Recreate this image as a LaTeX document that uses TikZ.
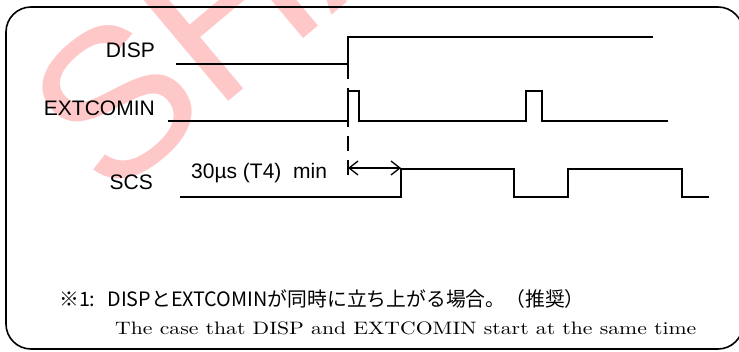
\documentclass[tikz,border=0pt]{standalone}
\usepackage{fontspec}
\newfontfamily\arialfont{Liberation Sans}
\newfontfamily\jpfont{Noto Sans CJK JP}
\usetikzlibrary{arrows.meta}
\definecolor{wmred}{RGB}{255,200,200}
\tikzset{
	sig/.style={line width=1.3pt},
	siglabel/.style={font=\arialfont\fontsize{21}{21}\selectfont, inner sep=0pt, anchor=base east},
	notetext/.style={inner sep=0pt, anchor=base west},
}

\begin{document}
\begin{tikzpicture}[x=1pt,y=-1pt]
	\useasboundingbox (0,0) rectangle (739,351);
	\begin{scope}
		\clip (0,0) rectangle (739,351);
		\node[wmred, font=\arialfont\fontsize{210}{210}\selectfont, rotate=40, inner sep=0pt, anchor=base west] (mark) at (108,203) {SHARP};
	\end{scope}
	\draw[line width=1.6pt, rounded corners=25pt] (6,7) rectangle (743,349);
	
	\node[siglabel] (disp) at (155,57) {DISP};
	\node[siglabel] (extcomin) at (155,115) {EXTCOMIN};
	\node[siglabel] (scs) at (153,189) {SCS};
	
	\coordinate (D0) at (176,64);
	\coordinate (D1) at (348,64);
	\coordinate (D2) at (348,37);
	\coordinate (D3) at (653,37);
	\draw[sig] (D0) -- (D1) -- (D2) -- (D3);
	
	\coordinate (E0) at (168,121);
	\coordinate (E1) at (668,121);
	\draw[sig] (E0) -- (348,121) -- (348,91) -- (359,91) -- (359,121)
		-- (526,121) -- (526,91) -- (542,91) -- (542,121) -- (E1);
	
	\coordinate (S0) at (180,197);
	\coordinate (S1) at (401,197);
	\coordinate (S2) at (401,169);
	\coordinate (S3) at (709,197);
	\draw[sig] (S0) -- (S1) -- (S2) -- (514,169) -- (514,197) -- (568,197)
		-- (568,169) -- (682,169) -- (682,197) -- (S3);
	
	\coordinate (T0) at (348,177);
	\draw[sig, dash pattern=on 15pt off 9pt] (D1) -- (T0);
	
	\coordinate (A0) at (348,168);
	\coordinate (A1) at (401,168);
	\draw[sig, {Straight Barb[length=9pt,width=14pt]}-{Straight Barb[length=9pt,width=14pt]}] (A0) -- (A1);
	\node[notetext, font=\arialfont\fontsize{21}{21}\selectfont] (tfour) at (191,178) {30µs (T4)\ \ min};
	
	\node[notetext, font=\jpfont\fontsize{19.8}{19.8}\selectfont] (notejp) at (59,306) {※1:\hspace{12pt}DISPとEXTCOMINが同時に立ち上がる場合。（推奨）};
	\node[notetext] (noteen) at (115,334) {\scalebox{2.17}[1.8]{\fontsize{10}{12}\selectfont The case that DISP and EXTCOMIN start at the same time}};
\end{tikzpicture}
\end{document}
